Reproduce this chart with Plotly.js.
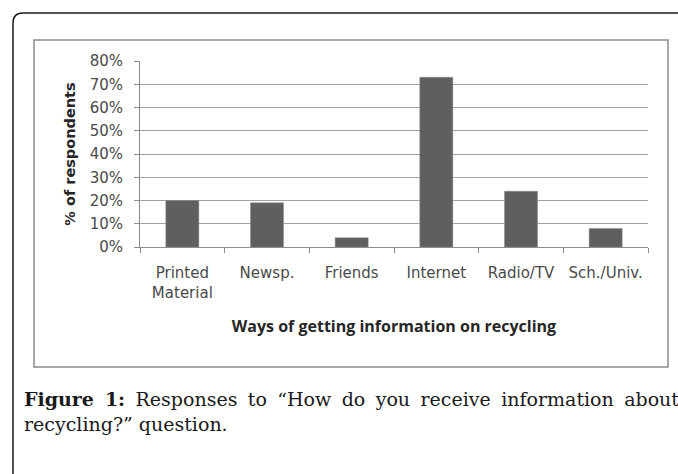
<!DOCTYPE html>
<html>
<head>
<meta charset="utf-8">
<script src="https://cdn.plot.ly/plotly-3.0.1.min.js"></script>
<style>
html,body{margin:0;padding:0;background:#fff;}
#chart{width:678px;height:474px;}
</style>
</head>
<body>
<div id="chart"></div>
<script>
const categories = ["Printed<br>Material", "Newsp.", "Friends", "Internet", "Radio/TV", "Sch./Univ."];
const respondentsPct = [20, 19, 4, 73, 24, 8];
const yTickValues = [0, 10, 20, 30, 40, 50, 60, 70, 80];
const yTickLabels = ["0%", "10%", "20%", "30%", "40%", "50%", "60%", "70%", "80%"];
const xAxisTitle = "Ways of getting information on recycling";
const yAxisTitle = "% of respondents";
const captionLine1 = "<b>Figure 1:</b> Responses to \u201cHow do you receive information about";
const captionLine2 = "recycling?\u201d question.";

// plot area geometry in pixels
const W = 678, H = 474;
const L = 140, R = 648, T = 61, B = 247;
const pw = R - L, ph = B - T;
const px = x => (x - L) / pw;
const py = y => (B - y) / ph;

const rx = 10 / pw, ry = 10 / ph;
const ox0 = px(13), oy0 = py(13), oxr = px(700), oyb = py(490);
const outerPath = `M ${ox0},${oyb} L ${ox0},${oy0 - ry} Q ${ox0},${oy0} ${ox0 + rx},${oy0} L ${oxr},${oy0}`;

const tickFont = {family: "DejaVu Sans, Verdana, sans-serif", size: 15, color: "#4a4a4a"};
const captionFont = {family: "DejaVu Serif, serif", size: 19, color: "#1a1a1a"};

const data = [{
  type: "bar",
  x: categories,
  y: respondentsPct,
  marker: {color: "#5f5f5f", line: {color: "#8a8a8a", width: 0.5}},
  hoverinfo: "x+y"
}];

const layout = {
  width: W, height: H,
  margin: {l: L, r: W - R, t: T, b: H - B, pad: 0},
  paper_bgcolor: "#ffffff",
  plot_bgcolor: "#ffffff",
  showlegend: false,
  bargap: 0.61,
  font: tickFont,
  xaxis: {
    type: "category",
    showline: true, linecolor: "#8c8c8c", linewidth: 1,
    ticks: "outside", ticklen: 5, tickcolor: "#8c8c8c", tickson: "boundaries",
    showgrid: false,
    tickfont: tickFont,
    ticklabelstandoff: 12,
    title: {text: "<b>" + xAxisTitle + "</b>", font: {family: "Open Sans, sans-serif", size: 16, color: "#262626"}, standoff: 20},
    automargin: false
  },
  yaxis: {
    range: [0, 80],
    tickmode: "array",
    tickvals: yTickValues,
    ticktext: yTickLabels,
    showline: true, linecolor: "#8c8c8c", linewidth: 1,
    ticks: "outside", ticklen: 5, tickcolor: "#8c8c8c",
    showgrid: true, gridcolor: "#a3a3a3", gridwidth: 1,
    zeroline: false,
    tickfont: tickFont,
    ticklabelstandoff: 8,
    title: {text: "<b>" + yAxisTitle + "</b>", font: {family: "DejaVu Sans, Verdana, sans-serif", size: 14.5, color: "#262626"}, standoff: 10},
    automargin: false
  },
  shapes: [
    {type: "path", xref: "paper", yref: "paper", path: outerPath, line: {color: "#1a1a1a", width: 1.5}},
    {type: "rect", xref: "paper", yref: "paper", x0: px(34), x1: px(668), y0: py(367), y1: py(40), line: {color: "#8c8c8c", width: 1.5}, fillcolor: "rgba(0,0,0,0)", layer: "below"}
  ],
  annotations: [
    {xref: "paper", yref: "paper", x: px(22), y: py(399), xanchor: "left", yanchor: "middle", align: "left", showarrow: false,
     text: captionLine1, font: captionFont},
    {xref: "paper", yref: "paper", x: px(22), y: py(424), xanchor: "left", yanchor: "middle", align: "left", showarrow: false,
     text: captionLine2, font: captionFont}
  ]
};

Plotly.newPlot("chart", data, layout, {displayModeBar: false, staticPlot: true}).then(() => {
  // justify the first caption line across the text column, as in the printed figure
  const el = document.querySelector(".annotation .annotation-text");
  if (!el) return;
  const target = 677 - 22;
  const len = el.getComputedTextLength();
  const spaces = (el.textContent.match(/ /g) || []).length;
  if (spaces > 0 && len < target) {
    el.style.wordSpacing = ((target - len) / spaces) + "px";
  }
});
</script>
</body>
</html>
